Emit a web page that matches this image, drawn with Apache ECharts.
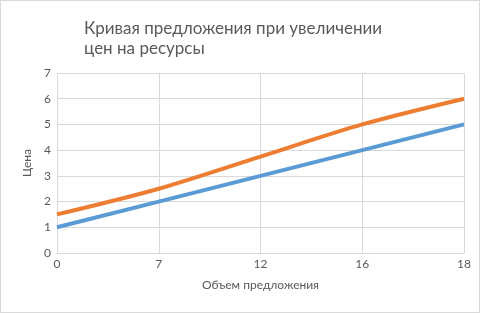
<!DOCTYPE html>
<html><head><meta charset="utf-8">
<script src="https://cdn.jsdelivr.net/npm/echarts@6/dist/echarts.min.js"></script>
<style>html,body{margin:0;padding:0;background:#fff}#c{width:480px;height:313px;box-sizing:border-box;border:1px solid #d9d9d9}</style>
</head><body><div id="c"></div>
<script>
const categories = ['0', '7', '12', '16', '18'];
const seriesBase = [1, 2, 3, 4, 5];
const seriesUp = [1.5, 2.5, 3.75, 5, 6];
const yTicks = {min: 0, max: 7, interval: 1};
const chart = echarts.init(document.getElementById('c'));
const font = 'Lato, Carlito, sans-serif';
chart.setOption({
  animation: false,
  title: {
    text: 'Кривая предложения при увеличении\nцен на ресурсы',
    left: 78, top: 13,
    textStyle: {fontFamily: font, fontSize: 17, fontWeight: 'normal', color: '#595959', lineHeight: 20}
  },
  grid: {left: 56, right: 15, top: 72, bottom: 59},
  xAxis: {
    type: 'category', data: categories, boundaryGap: false,
    name: 'Объем предложения', nameLocation: 'middle', nameGap: 26,
    nameTextStyle: {fontFamily: font, fontSize: 12, color: '#595959'},
    axisLine: {lineStyle: {color: '#d9d9d9'}},
    axisTick: {show: false},
    axisLabel: {fontFamily: font, fontSize: 12, color: '#595959', margin: 5},
    splitLine: {show: true, lineStyle: {color: '#d9d9d9'}}
  },
  yAxis: {
    type: 'value', min: yTicks.min, max: yTicks.max, interval: yTicks.interval,
    name: 'Цена', nameLocation: 'middle', nameGap: 22, nameRotate: 90,
    nameTextStyle: {fontFamily: font, fontSize: 12, color: '#595959'},
    axisLine: {show: false}, axisTick: {show: false},
    axisLabel: {fontFamily: font, fontSize: 12, color: '#595959', margin: 6},
    splitLine: {lineStyle: {color: '#d9d9d9'}}
  },
  series: [
    {type: 'line', data: seriesBase, symbol: 'none', lineStyle: {width: 4, color: '#5B9BD5'}, itemStyle: {color: '#5B9BD5'}},
    {type: 'line', data: seriesUp, symbol: 'none', smooth: 0.3, lineStyle: {width: 4, color: '#ED7D31'}, itemStyle: {color: '#ED7D31'}}
  ]
});
</script></body></html>
